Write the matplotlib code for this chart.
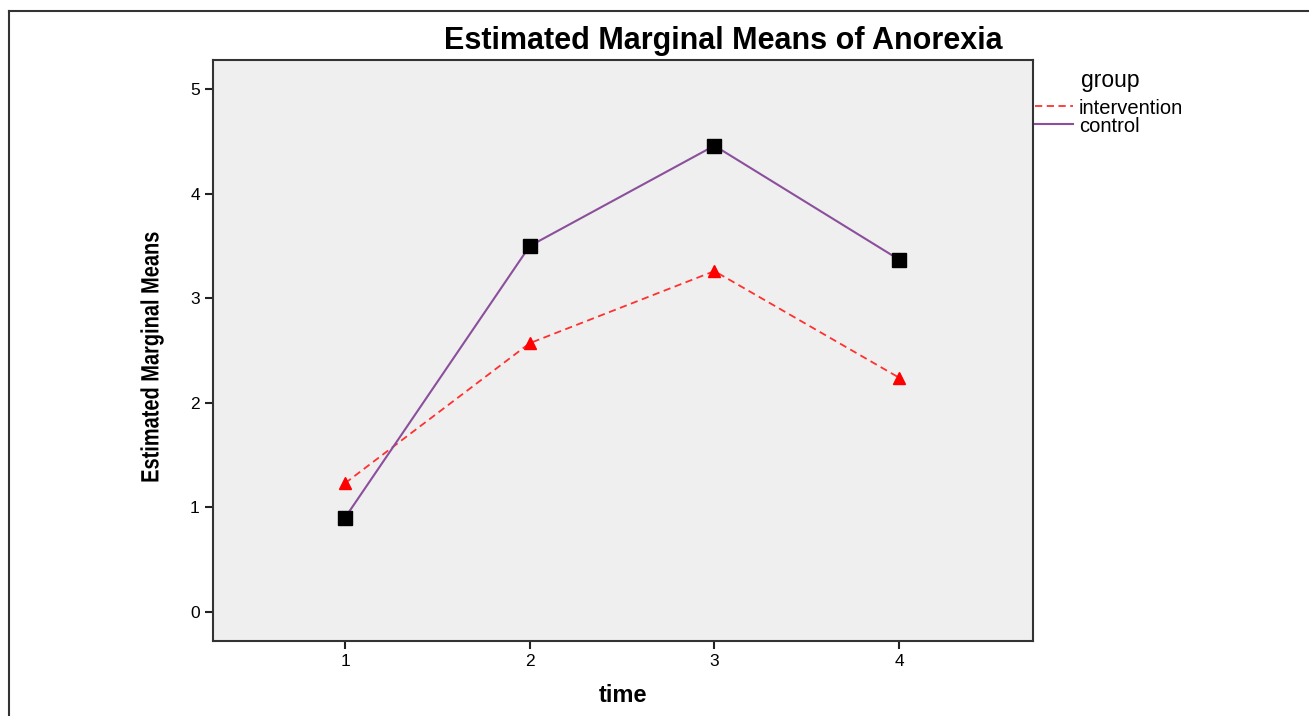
import numpy as np
import matplotlib
matplotlib.use('Agg')
import matplotlib.pyplot as plt
from matplotlib.lines import Line2D
from matplotlib.textpath import TextPath
from matplotlib.patches import PathPatch
from matplotlib.font_manager import FontProperties
from matplotlib.transforms import Affine2D, IdentityTransform

time = [1, 2, 3, 4]
intervention = [1.23, 2.57, 3.26, 2.24]
control = [0.90, 3.50, 4.46, 3.37]
y_ticks = [0, 1, 2, 3, 4, 5]
groups = ['intervention', 'control']

plt.rcParams['font.family'] = ['Liberation Sans', 'DejaVu Sans']

W, H = 1309, 716
fig = plt.figure(figsize=(W / 100, H / 100), dpi=100)
ax = fig.add_axes([213 / W, 1 - 641 / H, (1033 - 213) / W, (641 - 60) / H])
ax.set_facecolor('#efefef')

styles = [dict(color='#ff3030', linestyle=(0, (4, 2.5)), linewidth=1.3),
          dict(color='#8b4f9c', linestyle='-', linewidth=1.5)]

ax.plot(time, intervention, **styles[0],
        marker='^', markersize=8, markerfacecolor='red', markeredgecolor='red')
ax.plot(time, control, **styles[1],
        marker='s', markersize=9.5, markerfacecolor='black', markeredgecolor='black')

ax.set_xlim(0.285, 4.725)
ax.set_ylim(-0.28, 5.28)
ax.set_xticks(time)
ax.set_yticks(y_ticks)
ax.tick_params(axis='both', direction='out', length=6, width=1.5, labelsize=12.5, color='#222222')
ax.tick_params(top=False, right=False)
for s in ax.spines.values():
    s.set_linewidth(1.5)
    s.set_color('#333333')

ax.set_xlabel('time', fontsize=17, fontweight='bold', labelpad=11)

# y label in a condensed bold face: text path squeezed along its length
fp = FontProperties(family='Liberation Sans', weight='bold', size=18)
tp = TextPath((0, 0), 'Estimated Marginal Means', prop=fp)
bb = tp.get_extents()
px = 100 / 72
tr = (Affine2D().translate(-(bb.x0 + bb.x1) / 2, -(bb.y0 + bb.y1) / 2)
      .scale(0.8 * px, px).rotate_deg(90).translate(152, H - 357))
fig.add_artist(PathPatch(tr.transform_path(tp), transform=IdentityTransform(),
                         facecolor='black', edgecolor='none'))

fig.text(723 / W, 1 - 41 / H, 'Estimated Marginal Means of Anorexia', fontsize=22,
         fontweight='bold', ha='center', va='center')

# legend, drawn by hand to get the tight spacing
fig.text(1081 / W, 1 - 87 / H, 'group', fontsize=16.5, ha='left', va='baseline')
for i, (name, st) in enumerate(zip(groups, styles)):
    yl = 1 - (106 + 18 * i) / H
    fig.add_artist(Line2D([1035 / W, 1073 / W], [yl, yl], **st))
    fig.text(1079 / W, 1 - (114 + 18 * i) / H, name, fontsize=14.5, ha='left', va='baseline')

# outer frame (left and top edges)
fig.add_artist(Line2D([9 / W, 9 / W], [0, 1 - 11 / H], color='#333333', linewidth=1.5))
fig.add_artist(Line2D([9 / W, 1], [1 - 11 / H, 1 - 11 / H], color='#333333', linewidth=1.5))

fig.savefig('out.png', dpi=100)
